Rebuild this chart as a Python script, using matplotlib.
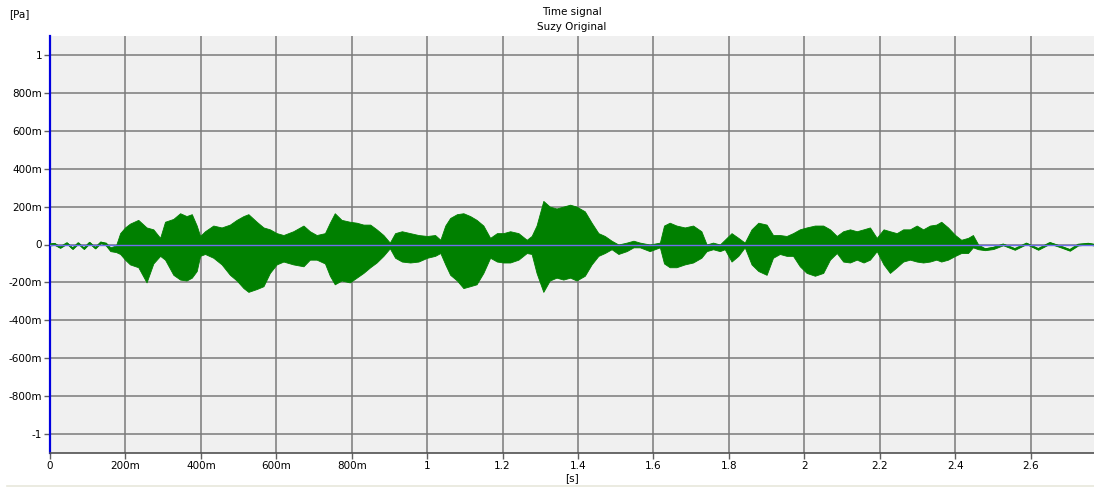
import numpy as np
import matplotlib
matplotlib.use("Agg")
import matplotlib.pyplot as plt
from matplotlib.lines import Line2D

# envelope of the time signal: time [s], upper [Pa], lower [Pa]
t_env = [0.000, 0.012, 0.027, 0.045, 0.060, 0.075, 0.090, 0.105, 0.120, 0.135,
         0.148, 0.160, 0.175, 0.186, 0.199, 0.212, 0.234, 0.256, 0.274, 0.292,
         0.305, 0.327, 0.345, 0.362, 0.376, 0.389, 0.398, 0.411, 0.433, 0.455,
         0.477, 0.495, 0.513, 0.526, 0.548, 0.566, 0.583, 0.601, 0.619, 0.645,
         0.672, 0.689, 0.707, 0.729, 0.742, 0.755, 0.773, 0.795, 0.813, 0.831,
         0.849, 0.866, 0.884, 0.901, 0.915, 0.933, 0.955, 0.977, 1.000, 1.021,
         1.035, 1.048, 1.061, 1.079, 1.096, 1.114, 1.131, 1.149, 1.167, 1.185,
         1.202, 1.220, 1.242, 1.264, 1.277, 1.290, 1.308, 1.325, 1.343, 1.361,
         1.379, 1.396, 1.418, 1.436, 1.454, 1.471, 1.489, 1.507, 1.529, 1.547,
         1.564, 1.590, 1.617, 1.628, 1.643, 1.661, 1.683, 1.705, 1.727, 1.741,
         1.758, 1.776, 1.789, 1.807, 1.825, 1.842, 1.860, 1.878, 1.900, 1.917,
         1.935, 1.953, 1.970, 1.988, 2.006, 2.028, 2.050, 2.068, 2.086, 2.103,
         2.121, 2.139, 2.157, 2.174, 2.192, 2.210, 2.227, 2.245, 2.262, 2.280,
         2.298, 2.315, 2.333, 2.350, 2.363, 2.381, 2.400, 2.416, 2.434, 2.447,
         2.461, 2.479, 2.501, 2.527, 2.558, 2.589, 2.620, 2.651, 2.678, 2.704,
         2.726, 2.753, 2.770]

upper = [0.005, 0.008, -0.012, 0.010, -0.018, 0.010, -0.018, 0.012, -0.015, 0.014,
         0.010, -0.015, -0.005, 0.060, 0.090, 0.110, 0.130, 0.090, 0.080, 0.035,
         0.120, 0.135, 0.165, 0.150, 0.160, 0.100, 0.045, 0.070, 0.100, 0.090,
         0.105, 0.130, 0.150, 0.160, 0.120, 0.090, 0.080, 0.060, 0.050, 0.070,
         0.100, 0.070, 0.050, 0.060, 0.115, 0.165, 0.130, 0.120, 0.115, 0.105,
         0.105, 0.080, 0.050, 0.010, 0.060, 0.070, 0.060, 0.050, 0.045, 0.050,
         0.025, 0.100, 0.140, 0.160, 0.165, 0.150, 0.130, 0.100, 0.035, 0.060,
         0.060, 0.070, 0.060, 0.025, 0.045, 0.100, 0.230, 0.200, 0.190, 0.200,
         0.210, 0.200, 0.175, 0.115, 0.060, 0.045, 0.020, 0.000, 0.010, 0.020,
         0.010, 0.000, 0.010, 0.100, 0.115, 0.100, 0.090, 0.100, 0.070, 0.000,
         0.010, 0.000, 0.025, 0.060, 0.035, 0.010, 0.080, 0.115, 0.105, 0.050,
         0.050, 0.045, 0.060, 0.080, 0.090, 0.100, 0.100, 0.080, 0.045, 0.070,
         0.080, 0.070, 0.080, 0.090, 0.035, 0.080, 0.070, 0.060, 0.080, 0.080,
         0.100, 0.080, 0.100, 0.105, 0.120, 0.090, 0.050, 0.025, 0.035, 0.050,
         0.000, -0.020, -0.012, 0.004, -0.020, 0.008, -0.020, 0.012, -0.006, -0.025,
         0.003, 0.008, 0.002]

lower = [-0.005, -0.002, -0.018, 0.004, -0.024, 0.004, -0.024, 0.006, -0.021, 0.008,
         -0.005, -0.035, -0.040, -0.050, -0.080, -0.105, -0.120, -0.200, -0.100, -0.060,
         -0.080, -0.160, -0.185, -0.190, -0.175, -0.140, -0.060, -0.050, -0.070, -0.105,
         -0.160, -0.190, -0.230, -0.250, -0.235, -0.220, -0.150, -0.105, -0.090, -0.105,
         -0.115, -0.080, -0.080, -0.100, -0.165, -0.210, -0.190, -0.200, -0.175, -0.150,
         -0.120, -0.095, -0.060, -0.020, -0.070, -0.090, -0.095, -0.090, -0.070, -0.060,
         -0.045, -0.105, -0.160, -0.190, -0.230, -0.220, -0.210, -0.150, -0.070, -0.090,
         -0.095, -0.095, -0.080, -0.045, -0.050, -0.150, -0.250, -0.190, -0.175, -0.185,
         -0.175, -0.190, -0.165, -0.105, -0.060, -0.045, -0.025, -0.050, -0.035, -0.015,
         -0.015, -0.035, -0.015, -0.100, -0.120, -0.120, -0.105, -0.095, -0.070, -0.035,
         -0.025, -0.035, -0.025, -0.090, -0.060, -0.015, -0.105, -0.140, -0.160, -0.070,
         -0.050, -0.060, -0.060, -0.115, -0.150, -0.165, -0.150, -0.080, -0.045, -0.090,
         -0.095, -0.080, -0.095, -0.080, -0.035, -0.105, -0.150, -0.120, -0.090, -0.080,
         -0.090, -0.095, -0.090, -0.080, -0.090, -0.080, -0.060, -0.045, -0.045, -0.015,
         -0.025, -0.030, -0.024, -0.004, -0.028, 0.002, -0.028, 0.004, -0.014, -0.033,
         -0.005, 0.000, -0.006]

x_ticks = [0, 0.2, 0.4, 0.6, 0.8, 1.0, 1.2, 1.4, 1.6, 1.8, 2.0, 2.2, 2.4, 2.6]
x_labels = ['0', '200m', '400m', '600m', '800m', '1', '1.2', '1.4', '1.6', '1.8',
            '2', '2.2', '2.4', '2.6']
y_ticks = [1, 0.8, 0.6, 0.4, 0.2, 0, -0.2, -0.4, -0.6, -0.8, -1]
y_labels = ['1', '800m', '600m', '400m', '200m', '0', '-200m', '-400m', '-600m',
            '-800m', '-1']

t_env = np.array(t_env)
upper = np.array(upper)
lower = np.array(lower)

fig = plt.figure(figsize=(10.94, 4.87), dpi=100)
fig.patch.set_facecolor('white')
ax = fig.add_axes([50 / 1094, 34 / 487, 1 - 50 / 1094, 417 / 487])
ax.set_facecolor('#f0f0f0')

ax.fill_between(t_env, lower, upper, color='#008000', linewidth=0.6, zorder=3)
ax.plot(t_env, (upper + lower) / 2, color='#008000', linewidth=1.3, zorder=3)
ax.axhline(0, color='#6f6fef', linewidth=1.0, zorder=4)

ax.set_xlim(0, 2.768)
ax.set_ylim(-1.1, 1.1)
ax.set_xticks(x_ticks)
ax.set_xticklabels(x_labels)
ax.set_yticks(y_ticks)
ax.set_yticklabels(y_labels)
ax.tick_params(axis='both', labelsize=7.5, direction='out', length=4,
               color='#606060', width=1, pad=1.5)
ax.grid(True, color='#7a7a7a', linewidth=1.1, zorder=1)
ax.set_axisbelow(True)

for side in ['top', 'right']:
    ax.spines[side].set_visible(False)
ax.spines['left'].set_color('#0000e0')
ax.spines['left'].set_linewidth(1.6)
ax.spines['bottom'].set_color('#505050')
ax.spines['bottom'].set_linewidth(1.2)

fig.text(572 / 1094, 1 - 12 / 487, 'Time signal', ha='center', va='center', fontsize=7.5)
fig.text(572 / 1094, 1 - 27 / 487, 'Suzy Original', ha='center', va='center', fontsize=7.5)
fig.text(9 / 1094, 1 - 14 / 487, '[Pa]', ha='left', va='center', fontsize=7.5)
fig.text(572 / 1094, 1 - 478 / 487, '[s]', ha='center', va='center', fontsize=7.5)
fig.add_artist(Line2D([7 / 1094, 1], [1.5 / 487, 1.5 / 487], color='#e8e8dc',
                      linewidth=1.2, transform=fig.transFigure))

fig.savefig('out.png', dpi=100)
